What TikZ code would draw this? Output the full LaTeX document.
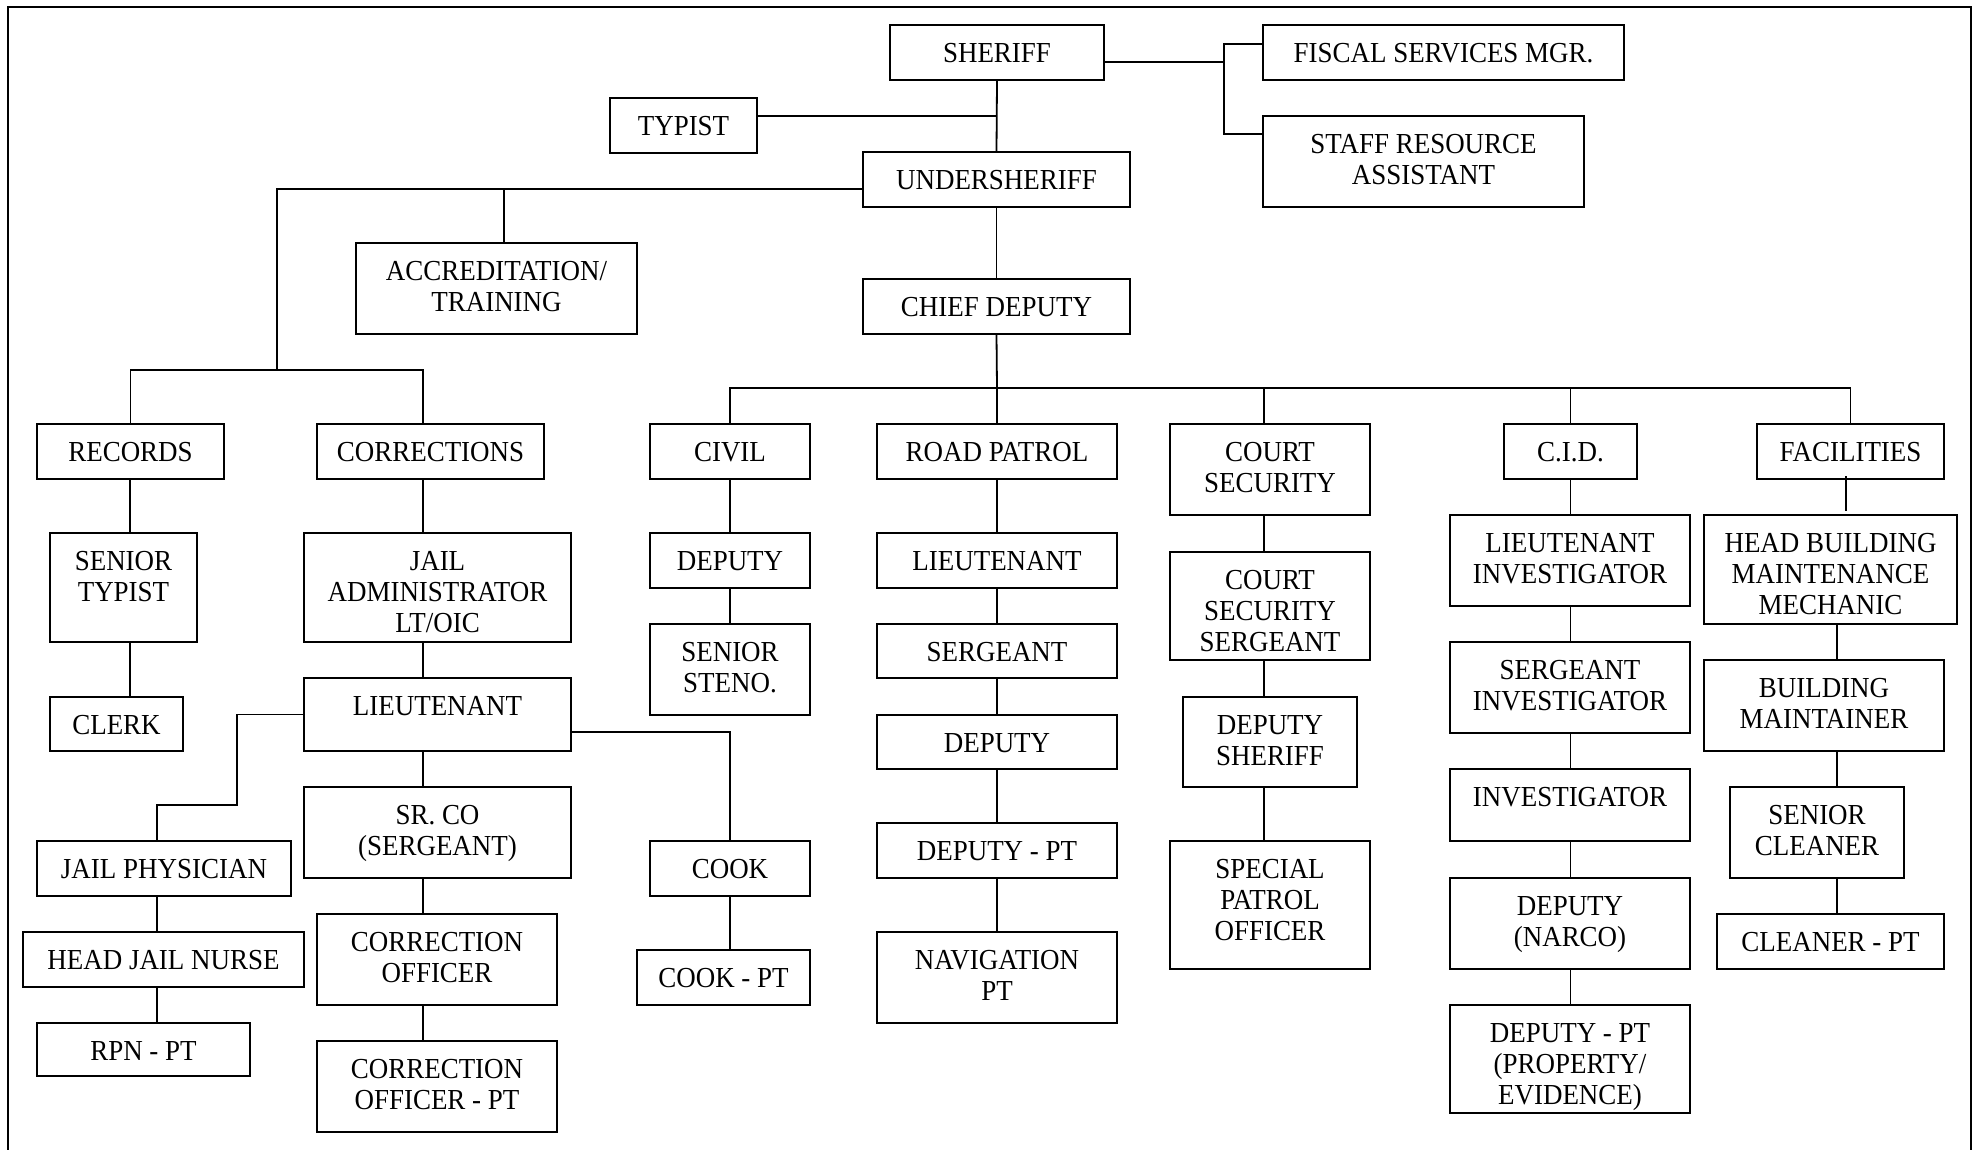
\documentclass[tikz,border=0pt]{standalone}
\usepackage{fontspec}
\setmainfont{Liberation Serif}[FakeStretch=0.93]
\usetikzlibrary{calc}
\tikzset{
  orgbox/.style={draw, line width=2pt, inner sep=0pt, font=\fontsize{29}{31}\selectfont},
  conn/.style={line width=1.8pt},
  frame/.style={line width=2.5pt}
}
% \bx{name}{x1}{y1}{x2}{y2}{text}
\newcommand\bx[6]{%
  \node[orgbox] (#1) at ({(#2+#4)/2},{(#3+#5)/2})
    {\parbox[c][\dimexpr #5pt-#3pt\relax][t]{\dimexpr #4pt-#2pt\relax}{\centering\rule{0pt}{37pt}#6\par}};}
\begin{document}
\begin{tikzpicture}[x=1pt,y=-1pt]
\useasboundingbox (0,0) rectangle (1981,1149);
\draw[frame] (8,1170) -- (8,7) -- (1971,7) -- (1971,1170);

% top
\bx{sheriff}{890}{25}{1104}{80}{SHERIFF}
\bx{fiscal}{1263}{25}{1624}{80}{FISCAL SERVICES MGR.}
\bx{staff}{1263}{116}{1584}{207}{STAFF RESOURCE\\ASSISTANT}
\bx{typist}{610}{98}{757}{153}{TYPIST}
\bx{under}{863}{152}{1130}{207}{UNDERSHERIFF}
\bx{accred}{356}{243}{637}{334}{ACCREDITATION/\\TRAINING}
\bx{chief}{863}{279}{1130}{334}{CHIEF DEPUTY}

% divisions
\bx{records}{37}{424}{224}{479}{RECORDS}
\bx{corrections}{317}{424}{544}{479}{CORRECTIONS}
\bx{civil}{650}{424}{810}{479}{CIVIL}
\bx{road}{877}{424}{1117}{479}{ROAD PATROL}
\bx{court}{1170}{424}{1370}{515}{COURT\\SECURITY}
\bx{cid}{1504}{424}{1637}{479}{C.I.D.}
\bx{fac}{1757}{424}{1944}{479}{FACILITIES}

% records
\bx{srtypist}{50}{533}{197}{642}{SENIOR\\TYPIST}
\bx{clerk}{50}{697}{183}{751}{CLERK}

% corrections
\bx{jailadmin}{304}{533}{571}{642}{JAIL\\ADMINISTRATOR\\LT/OIC}
\bx{corrlt}{304}{678}{571}{751}{LIEUTENANT}
\bx{srco}{304}{787}{571}{878}{SR. CO\\(SERGEANT)}
\bx{co}{317}{914}{557}{1005}{CORRECTION\\OFFICER}
\bx{copt}{317}{1041}{557}{1132}{CORRECTION\\OFFICER - PT}
\bx{physician}{37}{841}{291}{896}{JAIL PHYSICIAN}
\bx{nurse}{23}{932}{304}{987}{HEAD JAIL NURSE}
\bx{rpn}{37}{1023}{250}{1076}{RPN - PT}
\bx{cook}{650}{841}{810}{896}{COOK}
\bx{cookpt}{637}{950}{810}{1005}{COOK - PT}

% civil
\bx{civdep}{650}{533}{810}{588}{DEPUTY}
\bx{steno}{650}{624}{810}{715}{SENIOR\\STENO.}

% road patrol
\bx{roadlt}{877}{533}{1117}{588}{LIEUTENANT}
\bx{roadsgt}{877}{624}{1117}{678}{SERGEANT}
\bx{roaddep}{877}{715}{1117}{769}{DEPUTY}
\bx{roaddeppt}{877}{823}{1117}{878}{DEPUTY - PT}
\bx{nav}{877}{932}{1117}{1023}{NAVIGATION\\PT}

% court security
\bx{cssgt}{1170}{552}{1370}{660}{COURT\\SECURITY\\SERGEANT}
\bx{depsher}{1183}{697}{1357}{787}{DEPUTY\\SHERIFF}
\bx{spo}{1170}{841}{1370}{969}{SPECIAL\\PATROL\\OFFICER}

% CID
\bx{ltinv}{1450}{515}{1690}{606}{LIEUTENANT\\INVESTIGATOR}
\bx{sgtinv}{1450}{642}{1690}{733}{SERGEANT\\INVESTIGATOR}
\bx{inv}{1450}{769}{1690}{841}{INVESTIGATOR}
\bx{narco}{1450}{878}{1690}{969}{DEPUTY\\(NARCO)}
\bx{deppt}{1450}{1005}{1690}{1113}{DEPUTY - PT\\(PROPERTY/\\EVIDENCE)}

% facilities
\bx{hbm}{1704}{515}{1957}{624}{HEAD BUILDING\\MAINTENANCE\\MECHANIC}
\bx{bm}{1704}{660}{1944}{751}{BUILDING\\MAINTAINER}
\bx{srclean}{1730}{787}{1904}{878}{SENIOR\\CLEANER}
\bx{cleanpt}{1717}{914}{1944}{969}{CLEANER - PT}

% junction coordinates / column lines
\coordinate (lb) at (277,370);
\coordinate (db) at (997,388);
\coordinate (fb) at (1224,62);
\coordinate (j1) at (237,805);
\coordinate (rx) at (130,0);
\coordinate (cx) at (423,0);
\coordinate (ccx) at (1264,0);
\coordinate (px) at (157,0);
\coordinate (fx) at (1846,0);
\coordinate (mx) at (1837,0);

% top connectors
\draw[conn] (sheriff.south) -- (under.north);
\coordinate (t1) at ($(typist.east)+(0,-9.5)$);
\draw[conn] (t1) -- (t1 -| sheriff.south);
\draw[conn] ($(sheriff.east)+(0,9.5)$) -- (fb);
\draw[conn] ($(fiscal.west)+(0,-8.5)$) -| (fb) |- ($(staff.west)+(0,-27.5)$);
\coordinate (uw) at ($(under.west)+(0,9.5)$);
\draw[conn] (uw) -| (lb);
\draw[conn] (records.north) |- (lb) -| (cx |- corrections.north);
\coordinate (a1) at ($(accred.north)+(7.5,0)$);
\draw[conn] (a1) -- (a1 |- uw);
\draw[conn] (under.south) -- (chief.north);
\draw[conn] (chief.south) -- (db);
\draw[conn] (civil.north) |- (db) -| (fac.north);
\draw[conn] (road.north) -- (db);
\draw[conn] (ccx |- court.north) -- (ccx |- db);
\draw[conn] (cid.north) -- (cid.north |- db);

% records
\draw[conn] (rx |- records.south) -- (rx |- srtypist.north);
\draw[conn] (rx |- srtypist.south) -- (rx |- clerk.north);

% corrections
\foreach \a/\b in {corrections/jailadmin, jailadmin/corrlt, corrlt/srco, srco/co, co/copt}
  \draw[conn] (cx |- \a.south) -- (cx |- \b.north);
\draw[conn] (corrlt.west) -| (j1) -| (px |- physician.north);
\foreach \a/\b in {physician/nurse, nurse/rpn}
  \draw[conn] (px |- \a.south) -- (px |- \b.north);
\draw[conn] ($(corrlt.east)+(0,17.5)$) -| (cook.north);
\draw[conn] (cook.south) -- (cook.south |- cookpt.north);

% civil
\draw[conn] (civil.south) -- (civdep.north);
\draw[conn] (civdep.south) -- (steno.north);

% road patrol
\foreach \a/\b in {road/roadlt, roadlt/roadsgt, roadsgt/roaddep, roaddep/roaddeppt, roaddeppt/nav}
  \draw[conn] (\a.south) -- (\b.north);

% court security
\foreach \a/\b in {court/cssgt, cssgt/depsher, depsher/spo}
  \draw[conn] (ccx |- \a.south) -- (ccx |- \b.north);

% CID
\foreach \a/\b in {cid/ltinv, ltinv/sgtinv, sgtinv/inv, inv/narco, narco/deppt}
  \draw[conn] (\a.south -| cid.south) -- (\b.north -| cid.south);

% facilities
\draw[conn] ($(fx |- fac.south)+(0,-4)$) -- ($(fx |- hbm.north)+(0,-3)$);
\foreach \a/\b in {hbm/bm, bm/srclean, srclean/cleanpt}
  \draw[conn] (mx |- \a.south) -- (mx |- \b.north);
\end{tikzpicture}
\end{document}
